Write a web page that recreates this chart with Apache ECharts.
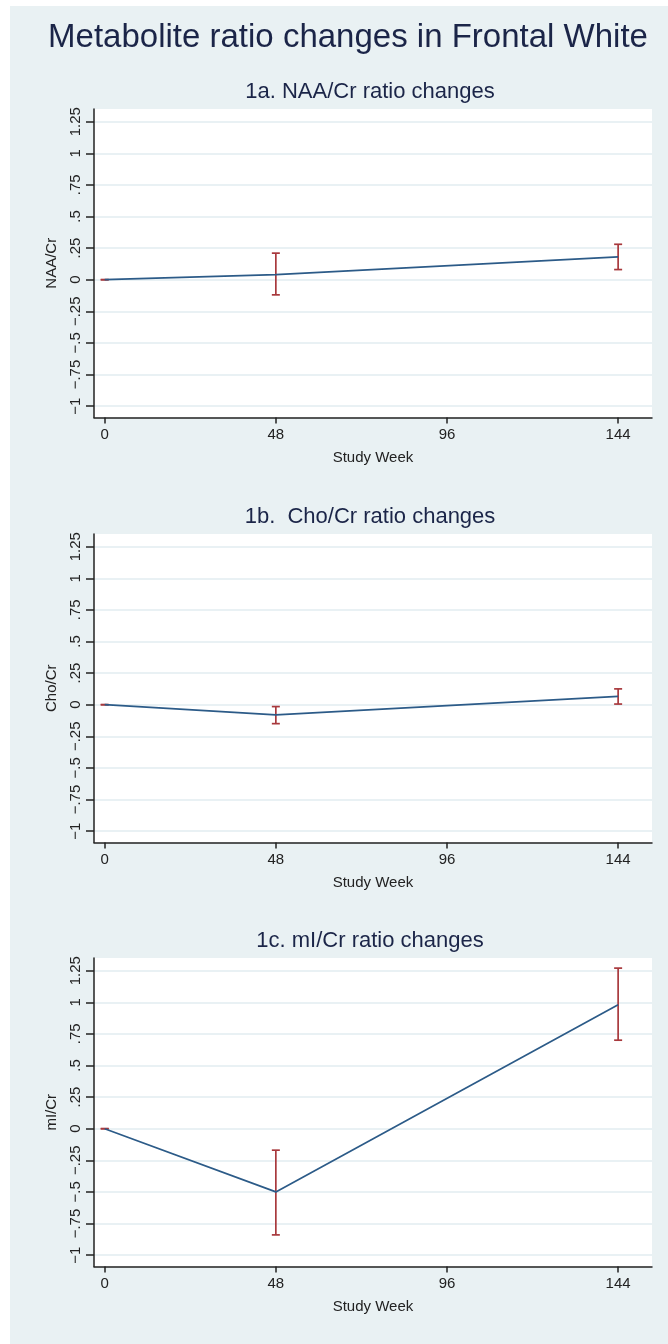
<!DOCTYPE html>
<html><head><meta charset="utf-8">
<script src="https://cdn.jsdelivr.net/npm/echarts@6/dist/echarts.min.js"></script>
<style>html,body{margin:0;padding:0;background:#fff}#c{width:668px;height:1344px}</style>
</head><body><div id="c"></div><script>
const mainTitle = 'Metabolite ratio changes in Frontal White';
const panelTitles = ['1a. NAA/Cr ratio changes', '1b.  Cho/Cr ratio changes', '1c. mI/Cr ratio changes'];
const yNames = ['NAA/Cr', 'Cho/Cr', 'mI/Cr'];
const xName = 'Study Week';
const weeks = [0, 48, 144];
const xTicks = [0, 48, 96, 144];
const yTicks = [-1, -0.75, -0.5, -0.25, 0, 0.25, 0.5, 0.75, 1, 1.25];
const yTickLabels = ['\u22121', '\u2212.75', '\u2212.5', '\u2212.25', '0', '.25', '.5', '.75', '1', '1.25'];
const naaMean = [0, 0.04, 0.18];
const naaLow = [0, -0.12, 0.08];
const naaHigh = [0, 0.21, 0.28];
const choMean = [0, -0.08, 0.065];
const choLow = [0, -0.15, 0.005];
const choHigh = [0, -0.015, 0.125];
const miMean = [0, -0.50, 0.98];
const miLow = [0, -0.84, 0.70];
const miHigh = [0, -0.17, 1.27];

const panels = [
  {mean: naaMean, low: naaLow, high: naaHigh},
  {mean: choMean, low: choLow, high: choHigh},
  {mean: miMean, low: miLow, high: miHigh}
];
const tops = [109, 534, 958];
const gridH = 308.5;
const FONT = '"Liberation Sans", Arial, Helvetica, sans-serif';
const lineColor = '#2c5b88';
const barColor = '#a8393d';
const txt = '#222';

const chart = echarts.init(document.getElementById('c'), null, {renderer: 'canvas'});
const grids = [], xAxes = [], yAxes = [], series = [];
const graphics = [
  {type: 'rect', shape: {x: 0, y: 0, width: 10, height: 1344}, style: {fill: '#fff'}, silent: true},
  {type: 'rect', shape: {x: 0, y: 0, width: 668, height: 6}, style: {fill: '#fff'}, silent: true},
  {type: 'text', x: 348, y: 38, style: {text: mainTitle, font: '33px ' + FONT, fill: '#1b2548', align: 'center', verticalAlign: 'middle'}}
];

panels.forEach((p, i) => {
  grids.push({left: 94, right: 16, top: tops[i], height: gridH, show: true, backgroundColor: '#fff', borderWidth: 0});
  xAxes.push({
    type: 'value', gridIndex: i, min: -3, max: 153.5,
    name: xName, nameLocation: 'middle', nameGap: 33,
    nameTextStyle: {color: txt, fontSize: 15, fontFamily: FONT},
    axisLine: {show: true, onZero: false, lineStyle: {color: '#222', width: 1.5}},
    axisTick: {show: true, length: 6, customValues: xTicks, lineStyle: {color: '#222', width: 1.5}},
    axisLabel: {customValues: xTicks, color: txt, fontSize: 15, fontFamily: FONT, margin: 10},
    splitLine: {show: false}
  });
  yAxes.push({
    type: 'value', gridIndex: i, min: -1.09, max: 1.35,
    name: yNames[i], nameLocation: 'middle', nameGap: 35, nameRotate: 90,
    nameTextStyle: {color: txt, fontSize: 15, fontFamily: FONT},
    axisLine: {show: true, onZero: false, lineStyle: {color: '#222', width: 1.5}},
    axisTick: {show: true, length: 8, customValues: yTicks, lineStyle: {color: '#222', width: 1.5}},
    axisLabel: {customValues: yTicks, rotate: 90, color: txt, fontSize: 15, fontFamily: FONT, margin: 11,
      formatter: v => { const k = yTicks.findIndex(t => Math.abs(t - v) < 1e-6); return k >= 0 ? yTickLabels[k] : ''; }},
    splitLine: {show: true, lineStyle: {color: '#e2edf0', width: 1.5}}
  });
  graphics.push({type: 'text', x: 370, y: tops[i] - 17, style: {text: panelTitles[i], font: '22px ' + FONT, fill: '#1b2548', align: 'center', verticalAlign: 'middle'}});
  series.push({
    type: 'custom', xAxisIndex: i, yAxisIndex: i, z: 2,
    data: weeks.map((w, k) => [w, p.low[k], p.high[k]]),
    renderItem: (params, api) => {
      const x = api.value(0), lo = api.value(1), hi = api.value(2);
      const a = api.coord([x, lo]), b = api.coord([x, hi]);
      const hw = 4;
      const st = {stroke: barColor, lineWidth: 1.7};
      return {type: 'group', children: [
        {type: 'line', shape: {x1: a[0], y1: a[1], x2: b[0], y2: b[1]}, style: st},
        {type: 'line', shape: {x1: a[0] - hw, y1: a[1], x2: a[0] + hw, y2: a[1]}, style: st},
        {type: 'line', shape: {x1: b[0] - hw, y1: b[1], x2: b[0] + hw, y2: b[1]}, style: st}
      ]};
    }
  });
  series.push({
    type: 'line', xAxisIndex: i, yAxisIndex: i, z: 3,
    data: weeks.map((w, k) => [w, p.mean[k]]),
    symbol: 'none', lineStyle: {color: lineColor, width: 1.7}
  });
});

chart.setOption({
  backgroundColor: '#e9f1f3',
  animation: false,
  grid: grids, xAxis: xAxes, yAxis: yAxes, series: series,
  graphic: graphics
});
</script></body></html>
